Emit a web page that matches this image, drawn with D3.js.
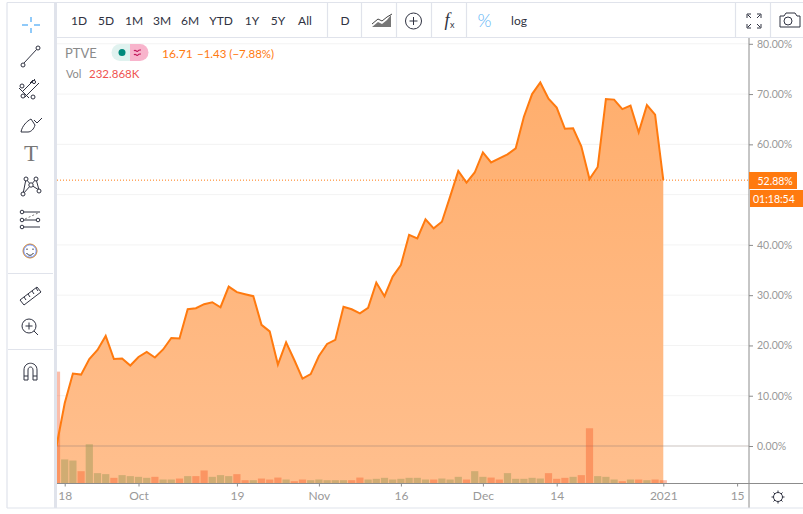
<!DOCTYPE html>
<html>
<head>
<meta charset="utf-8">
<script src="https://d3js.org/d3.v7.min.js"></script>
<style>
    html, body { margin: 0; padding: 0; background: #fff; }
    svg { display: block; }
    text { font-family: Lato, "Open Sans", sans-serif; }
</style>
</head>
<body>
<script type="text/javascript">

// percent change per trading day, starts 17 Sep 2020
var change = [0, 8.5, 14.4, 14.2, 17.3, 19.1, 21.9, 17.3, 17.4, 16.0, 17.7, 18.7, 17.6, 19.2, 21.5, 21.4,
    27.2, 27.4, 28.2, 28.6, 27.6, 31.7, 30.6, 30.2, 29.8, 24.1, 22.8, 16.2, 20.6, 17.1, 13.4, 14.3,
    17.9, 20.3, 21.1, 27.7, 27.2, 26.4, 27.5, 32.5, 29.8, 33.7, 36.0, 42.0, 41.3, 45.1, 43.3, 44.6,
    49.6, 54.7, 52.4, 54.4, 58.4, 56.4, 57.2, 58.0, 59.2, 65.5, 70.0, 72.3, 69.1, 67.3, 63.1, 63.2,
    59.6, 53.1, 55.5, 69.0, 68.9, 67.0, 67.7, 62.4, 67.8, 65.9, 52.88];

// volume in thousands
var volume = [7900, 1700, 1620, 870, 2770, 730, 660, 400, 590, 520, 470, 400, 470, 280, 280, 350,
    520, 520, 920, 470, 590, 520, 660, 233, 233, 350, 280, 420, 280, 162, 280, 233,
    280, 233, 233, 233, 233, 420, 280, 330, 400, 280, 330, 400, 400, 280, 280, 350,
    280, 470, 280, 870, 470, 420, 280, 730, 330, 330, 400, 350, 730, 330, 400, 470,
    590, 3900, 520, 470, 280, 162, 280, 280, 233, 280, 233];

// 1 = down day (red), 0 = up day (olive)
var down = [1, 0, 0, 1, 0, 0, 0, 1, 0, 0, 0, 0, 1, 0, 0, 1,
    0, 1, 1, 0, 0, 0, 1, 1, 0, 1, 1, 1, 0, 1, 1, 0,
    0, 0, 0, 0, 1, 1, 0, 0, 0, 0, 0, 0, 0, 0, 1, 0,
    0, 0, 1, 0, 0, 1, 1, 0, 0, 0, 0, 0, 1, 1, 1, 0,
    1, 1, 0, 0, 0, 1, 0, 1, 0, 1, 1];

var gridTicks = [10, 20, 30, 40, 50, 60, 70, 80];
var pctTicks = [0, 10, 20, 30, 40, 60, 70, 80]; // 50% sits under the price tag
var timeTicks = [1, 10, 22, 32, 42, 52, 61, 74, 83];
var timeLabels = ["18", "Oct", "19", "Nov", "16", "Dec", "14", "2021", "15"];
var ranges = ["1D", "5D", "1M", "3M", "6M", "YTD", "1Y", "5Y", "All"];
var rangeX = [79, 106, 134, 162, 190, 221, 252, 278, 305];

var W = 803, H = 514;
var paneL = 57, paneR = 749, axisY = 483.5;

var x = d3.scaleLinear().domain([0, 74]).range([56.5, 663.3]);
var y = d3.scaleLinear().domain([0, 80]).range([446, 43.8]);
var v = d3.scaleLinear().domain([0, 8000]).range([axisY, axisY - 113.3]);

var orange = "#ff7a0f", frame = "#e0e3eb", axisCol = "#8c8c8c", ink = "#2f3241";

var svg = d3.select("body").append("svg").attr("width", W).attr("height", H);

var defs = svg.append("defs");
defs.append("clipPath").attr("id", "pane").append("rect")
    .attr("x", paneL).attr("y", 38).attr("width", paneR - paneL).attr("height", axisY - 38);
var grad = defs.append("linearGradient").attr("id", "fade")
    .attr("x1", 0).attr("x2", 0).attr("y1", 0).attr("y2", 1);
grad.append("stop").attr("offset", "0%").attr("stop-color", "#ffae6d");
grad.append("stop").attr("offset", "100%").attr("stop-color", "#ffbf8e");

/* grid */
svg.append("g").selectAll("line").data(gridTicks).join("line")
    .attr("x1", paneL).attr("x2", paneR)
    .attr("y1", function(d) { return y(d); }).attr("y2", function(d) { return y(d); })
    .attr("stroke", "#f3f3f3");

/* area, line */
var chart = svg.append("g").attr("clip-path", "url(#pane)");

chart.append("path").datum(change)
    .attr("fill", "url(#fade)")
    .attr("d", d3.area()
        .x(function(d, i) { return x(i); })
        .y0(axisY)
        .y1(function(d) { return y(d); }));

chart.append("line")
    .attr("x1", paneL).attr("x2", paneR).attr("y1", y(0)).attr("y2", y(0))
    .attr("stroke", "#8a7a70").attr("stroke-opacity", 0.45);

chart.append("g").selectAll("rect").data(volume).join("rect")
    .attr("x", function(d, i) { return x(i) - 3.6; })
    .attr("width", 7.2)
    .attr("y", function(d) { return v(d); })
    .attr("height", function(d) { return axisY - v(d); })
    .attr("fill", function(d, i) { return down[i] ? "#f4511e" : "#a19a57"; })
    .attr("fill-opacity", function(d, i) { return down[i] ? 0.38 : 0.5; });

chart.append("path").datum(change)
    .attr("fill", "none")
    .attr("stroke", orange)
    .attr("stroke-width", 2)
    .attr("stroke-linejoin", "miter")
    .attr("d", d3.line()
        .x(function(d, i) { return x(i); })
        .y(function(d) { return y(d); }));

// last value line
svg.append("line")
    .attr("x1", paneL).attr("x2", paneR)
    .attr("y1", y(52.88)).attr("y2", y(52.88))
    .attr("stroke", orange).attr("stroke-dasharray", "1 2");

/* axes */
var yAxis = d3.axisRight(y).tickValues(pctTicks).tickSize(4).tickPadding(4)
    .tickFormat(function(d) { return d.toFixed(2) + "%"; });
var gy = svg.append("g").attr("transform", "translate(" + paneR + ",0)").call(yAxis);
gy.select(".domain").remove();
gy.selectAll("line").attr("stroke", axisCol);
gy.selectAll("text").attr("fill", "#999").style("font-size", "10.5px").style("font-family", "Lato");

var xAxis = d3.axisBottom(x).tickValues(timeTicks).tickSize(3).tickPadding(5)
    .tickFormat(function(d, i) { return timeLabels[i]; });
var gx = svg.append("g").attr("transform", "translate(0," + axisY + ")").call(xAxis);
gx.select(".domain").remove();
gx.selectAll("line").attr("stroke", axisCol);
gx.selectAll("text").attr("fill", "#999").style("font-size", "12px").style("font-family", "Lato");

svg.append("line").attr("x1", paneL).attr("x2", W).attr("y1", axisY).attr("y2", axisY).attr("stroke", axisCol);
svg.append("line").attr("x1", paneR).attr("x2", paneR).attr("y1", 38).attr("y2", 508).attr("stroke", axisCol);

/* price tags */
svg.append("rect").attr("x", paneR).attr("y", 172).attr("width", 48).attr("height", 17).attr("fill", orange);
svg.append("rect").attr("x", paneR + 1).attr("y", 190).attr("width", 53).attr("height", 17).attr("fill", orange);
svg.append("text").attr("x", 757.5).attr("y", 185).attr("fill", "#fff").style("font-size", "10.5px").text("52.88%");
svg.append("text").attr("x", 753).attr("y", 203).attr("fill", "#fff").style("font-size", "10.5px").text("01:18:54");

/* frame */
var frameLines = [[7, 2.5, W, 2.5], [7, 2.5, 7, 508], [7, 508, W, 508], [57, 37.5, W, 37.5],
    [327.5, 3, 327.5, 37], [361.5, 3, 361.5, 37], [396.5, 3, 396.5, 37], [431.5, 3, 431.5, 37],
    [466.5, 3, 466.5, 37], [735.5, 3, 735.5, 37], [770.5, 3, 770.5, 37],
    [8, 273.5, 53, 273.5], [8, 349.5, 53, 349.5]];
svg.append("g").selectAll("line").data(frameLines).join("line")
    .attr("x1", function(d) { return d[0]; }).attr("y1", function(d) { return d[1]; })
    .attr("x2", function(d) { return d[2]; }).attr("y2", function(d) { return d[3]; })
    .attr("stroke", frame).attr("stroke-width", 1.2);
svg.append("rect").attr("x", 54).attr("y", 3).attr("width", 3).attr("height", 505).attr("fill", frame);

/* top toolbar */
svg.append("g").selectAll("text").data(ranges).join("text")
    .attr("x", function(d, i) { return rangeX[i]; })
    .attr("y", 25).attr("text-anchor", "middle").attr("fill", ink)
    .style("font-size", "12px").text(function(d) { return d; });
svg.append("text").attr("x", 345).attr("y", 25).attr("text-anchor", "middle").attr("fill", ink).style("font-size", "12px").text("D");
svg.append("text").attr("x", 519).attr("y", 25).attr("text-anchor", "middle").attr("fill", ink).style("font-size", "12px").text("log");
svg.append("text").attr("x", 484.5).attr("y", 27).attr("text-anchor", "middle").attr("fill", "#5cb3f5").style("font-size", "18px").style("font-weight", 300).text("%");
svg.append("text").attr("x", 447).attr("y", 26).attr("text-anchor", "middle").attr("fill", ink)
    .style("font-size", "18px").style("font-family", "'Liberation Serif'").style("font-style", "italic").text("f");
svg.append("text").attr("x", 450).attr("y", 28).attr("fill", ink).style("font-size", "9px").text("x");

function icon(d, col, w) {
    return svg.append("path").attr("d", d).attr("fill", "none")
        .attr("stroke", col || ink).attr("stroke-width", w || 1);
}
function dot(cx, cy, r) {
    return svg.append("circle").attr("cx", cx).attr("cy", cy).attr("r", r)
        .attr("fill", "#fff").attr("stroke", ink);
}

// chart style icon
svg.append("path").attr("d", "M372 27l6-5 4 2 5-4 4-5 0 12z").attr("fill", "#777");
icon("M372 24l6-5 4 2 5-4 5-3", "#444", 1);
// add
svg.append("circle").attr("cx", 413.5).attr("cy", 21).attr("r", 8).attr("fill", "none").attr("stroke", ink);
icon("M409.5 21h8M413.5 17v8");
// fullscreen
icon("M747 18v-4h4M757 14h4v4M747 24v4h4M761 24v4h-4M748 15l3 3M760 15l-3 3M748 27l3-3M760 27l-3-3");
// camera
icon("M780 16h4l2-3h9l2 3h3v11h-20z");
svg.append("circle").attr("cx", 788).attr("cy", 21).attr("r", 4).attr("fill", "none").attr("stroke", ink);

/* left toolbar */
icon("M31 17v5M31 28v5M22 25h6M34 25h6", "#90caf9", 2);
icon("M24 63L37 49");
dot(38, 48, 2); dot(23, 65, 2);
icon("M22 92l13-13M25 97l14-14M29 98l-10-10M33 80l-3 3");
dot(22, 86, 2); dot(23, 96, 2); dot(33, 97, 2); dot(34, 82, 1.6);
icon("M21 132c1-6 6-11 10-13l4 6c-1 4-4 7-7 7zM34 120l3 3 5-5");
svg.append("text").attr("x", 31).attr("y", 161).attr("text-anchor", "middle").attr("fill", "#777")
    .style("font-size", "23px").style("font-family", "'Liberation Serif'").text("T");
icon("M23 194l3-15 5 6 5-6 3 11M31 185l-8 9M31 185l8 5");
dot(23, 194, 2); dot(26, 179, 2); dot(31, 185, 2.2); dot(36, 179, 2); dot(39, 191, 2);
icon("M23 212h17M23 220h15M23 227h17");
icon("M25 219l13-6", "#777").attr("stroke-dasharray", "2 2");
dot(22, 212, 1.8); dot(22, 220, 1.8); dot(22, 227, 1.8); dot(38, 220, 1.8);
svg.append("circle").attr("cx", 30).attr("cy", 251).attr("r", 7).attr("fill", "#fff").attr("stroke", "#e08a1e");
svg.append("circle").attr("cx", 30).attr("cy", 251).attr("r", 6.2).attr("fill", "none").attr("stroke", "#2962ff").attr("stroke-width", 0.7);
icon("M26.5 253c2 3 5 3 7 0");
icon("M27 248.5v1.5M33 248.5v1.5");
icon("M20 300l17-13 4 5-17 13zM24 297l2 3M28 294l2 3M32 291l2 3M36 288l2 3");
svg.append("circle").attr("cx", 29).attr("cy", 326).attr("r", 7).attr("fill", "none").attr("stroke", ink);
icon("M34 331l4 4M25.5 326h7M29 322.5v7");
icon("M24 380v-10c0-9 13-9 13 0v10h-4v-10c0-4-5-4-5 0v10zM24 376h4M33 376h4");

/* legend */
svg.append("text").attr("x", 65).attr("y", 58).attr("fill", "#8a8a8a").style("font-size", "13px").text("PTVE");
svg.append("path").attr("d", "M120 44h10v17h-10a8.500 8.500 0 0 1 0-17z").attr("fill", "#e0f2ef");
svg.append("path").attr("d", "M130 44h10a8.500 8.500 0 0 1 0 17h-10z").attr("fill", "#f8b4cc");
svg.append("circle").attr("cx", 122).attr("cy", 52.5).attr("r", 3.500).attr("fill", "#00897b");
icon("M134 51c1.500-2 3 1.500 4 0s2-1 3-1M134 55c1.500-2 3 1.500 4 0s2-1 3-1", "#c2185b", 1.1);
svg.append("text").attr("x", 162).attr("y", 58).attr("fill", orange).style("font-size", "12px").text("16.71");
svg.append("text").attr("x", 197).attr("y", 58).attr("fill", orange).style("font-size", "11.5px").text("\u22121.43 (\u22127.88%)");
svg.append("text").attr("x", 66).attr("y", 78).attr("fill", "#8a8a8a").style("font-size", "11px").text("Vol");
svg.append("text").attr("x", 89).attr("y", 78).attr("fill", "#ef5350").style("font-size", "11.5px").text("232.868K");

/* settings gear */
svg.append("circle").attr("cx", 778).attr("cy", 497).attr("r", 4.500).attr("fill", "none").attr("stroke", ink);
icon("M778 490.500v2M778 501.500v2M771.500 497h2M782.500 497h2M773.500 492.500l1.500 1.500M781 500l1.500 1.500M773.500 501.500l1.500-1.500M781 494l1.500-1.500");

</script>
</body>
</html>
